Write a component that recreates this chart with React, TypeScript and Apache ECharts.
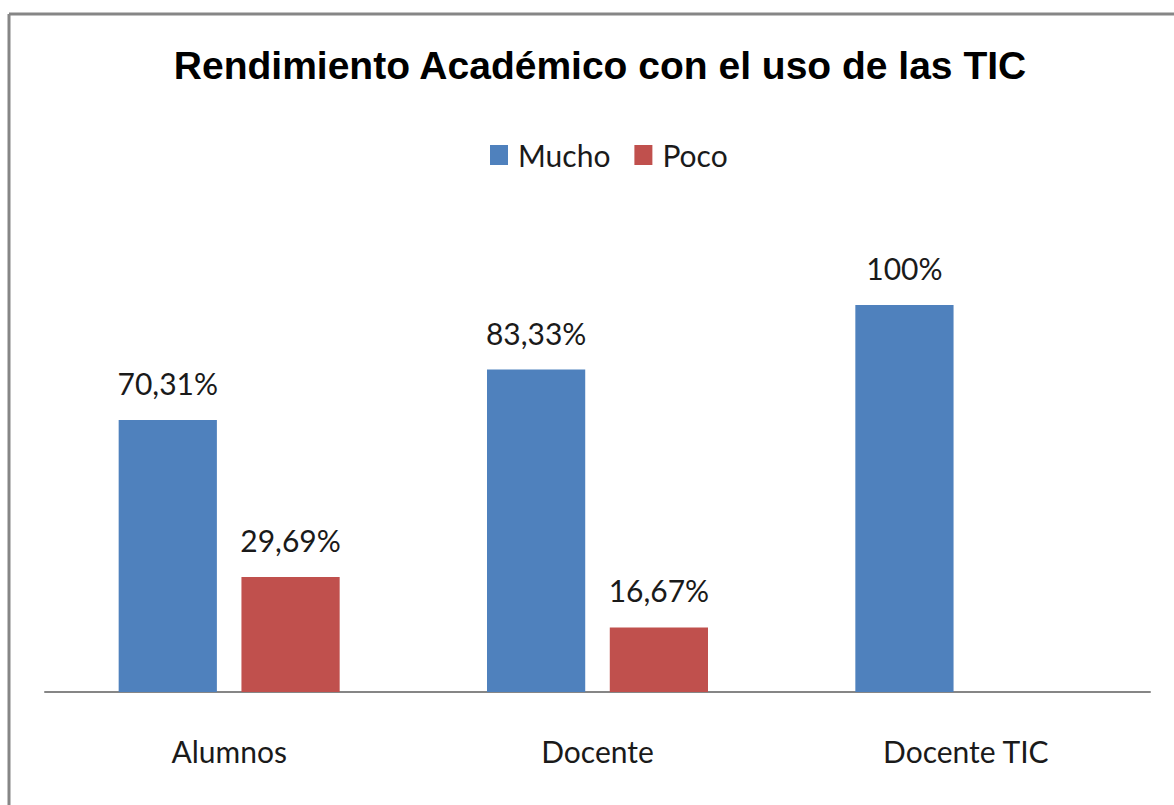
import React, { useEffect, useRef } from "react";
import * as echarts from "echarts";

const categories = ["Alumnos", "Docente", "Docente TIC"];
const mucho = [70.31, 83.33, 100];
const poco = [29.69, 16.67, null];
const muchoLabels = ["70,31%", "83,33%", "100%"];
const pocoLabels = ["29,69%", "16,67%", ""];
const seriesNames = ["Mucho", "Poco"];
const titleText = "Rendimiento Académico con el uso de las TIC";

export default function App() {
  const ref = useRef<HTMLDivElement>(null);
  useEffect(() => {
    const chart = echarts.init(ref.current!, null, { renderer: "svg" });
    const labelFont = { fontFamily: "Lato", fontSize: 30, color: "#1a1a1a" };
    chart.setOption({
      animation: false,
      backgroundColor: "#fff",
      title: {
        text: titleText,
        left: 595,
        textAlign: "center",
        top: 41,
        textStyle: { fontFamily: "Liberation Sans", fontWeight: "bold", fontSize: 39, color: "#000" },
      },
      legend: {
        data: seriesNames,
        left: 485,
        top: 135,
        itemWidth: 18,
        itemHeight: 20,
        itemGap: 24,
        icon: "rect",
        textStyle: { fontFamily: "Lato", fontSize: 30, color: "#1a1a1a", padding: [0, 0, 0, 5] },
      },
      grid: { left: 45, right: 24, top: 305, bottom: 113 },
      xAxis: {
        type: "category",
        data: categories,
        axisLine: { lineStyle: { color: "#868686", width: 2 } },
        axisTick: { show: false },
        axisLabel: { ...labelFont, margin: 44 },
      },
      yAxis: { type: "value", min: 0, max: 100, show: false, splitLine: { show: false } },
      series: [
        {
          name: seriesNames[0],
          type: "bar",
          data: mucho,
          itemStyle: { color: "#4F81BD" },
          barGap: "25%",
          barCategoryGap: "40%",
          label: {
            show: true,
            position: "top",
            distance: 22,
            ...labelFont,
            formatter: (p: any) => muchoLabels[p.dataIndex],
          },
        },
        {
          name: seriesNames[1],
          type: "bar",
          data: poco,
          itemStyle: { color: "#C0504D" },
          label: {
            show: true,
            position: "top",
            distance: 22,
            ...labelFont,
            formatter: (p: any) => pocoLabels[p.dataIndex],
          },
        },
      ],
      graphic: [
        { type: "line", shape: { x1: 9, y1: 14, x2: 1174, y2: 14 }, style: { stroke: "#868686", lineWidth: 3 } },
        { type: "line", shape: { x1: 9, y1: 14, x2: 9, y2: 805 }, style: { stroke: "#868686", lineWidth: 3 } },
      ],
    });
    return () => chart.dispose();
  }, []);
  return <div ref={ref} style={{ position: "fixed", left: 0, top: 0, width: 1174, height: 805 }} />;
}
